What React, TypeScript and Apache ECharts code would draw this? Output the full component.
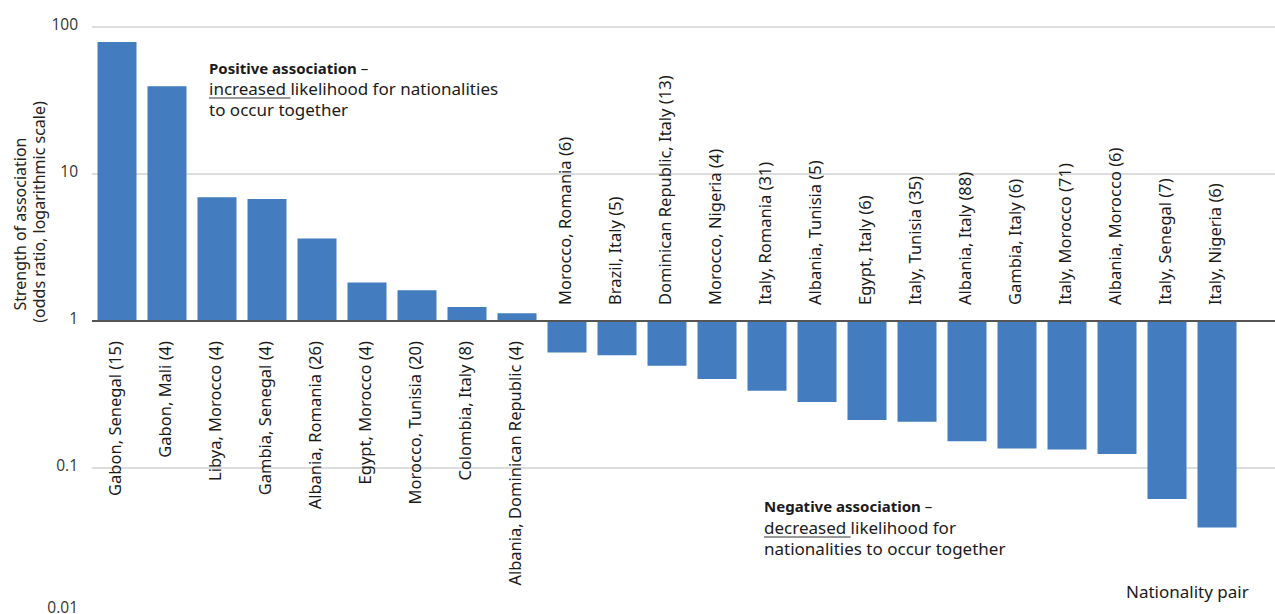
import React, { useEffect, useRef } from "react";
import * as echarts from "echarts";

const categories = [
  "Gabon, Senegal (15)",
  "Gabon, Mali (4)",
  "Libya, Morocco (4)",
  "Gambia, Senegal (4)",
  "Albania, Romania (26)",
  "Egypt, Morocco (4)",
  "Morocco, Tunisia (20)",
  "Colombia, Italy (8)",
  "Albania, Dominican Republic (4)",
  "Morocco, Romania (6)",
  "Brazil, Italy (5)",
  "Dominican Republic, Italy (13)",
  "Morocco, Nigeria (4)",
  "Italy, Romania (31)",
  "Albania, Tunisia (5)",
  "Egypt, Italy (6)",
  "Italy, Tunisia (35)",
  "Albania, Italy (88)",
  "Gambia, Italy (6)",
  "Italy, Morocco (71)",
  "Albania, Morocco (6)",
  "Italy, Senegal (7)",
  "Italy, Nigeria (6)",
];

const oddsRatios = [
  79, 39.5, 6.94, 6.76, 3.64, 1.83, 1.62, 1.245, 1.13,
  0.61, 0.584, 0.497, 0.403, 0.336, 0.281, 0.212, 0.206, 0.152, 0.1355, 0.1334, 0.1245,
  0.0615, 0.0393,
];

const yTickLabels = ["0.01", "0.1", "1", "10", "100"];
const yAxisTitle = ["Strength of association", "(odds ratio, logarithmic scale)"];
const positiveNote = ["Positive association", " –", "increased ", "likelihood for nationalities", "to occur together"];
const negativeNote = ["Negative association", " –", "decreased ", "likelihood for", "nationalities to occur together"];
const xAxisTitle = "Nationality pair";

const BAR_COLOR = "#437cbf";
const LABEL_FONT = "16.5px 'Noto Sans', sans-serif";
const NOTE_FONT = "17px 'Noto Sans', sans-serif";
const DASH_FONT = "15px 'Noto Sans', sans-serif";
const NOTE_BOLD = "bold 15px 'Noto Sans', sans-serif";
const TITLE_FONT = "16px 'Noto Sans', sans-serif";

function measure(text: string, font: string): number {
  const c = document.createElement("canvas").getContext("2d");
  if (!c) return text.length * 7;
  c.font = font;
  return c.measureText(text).width;
}

export default function App() {
  const ref = useRef<HTMLDivElement>(null);
  useEffect(() => {
    if (!ref.current) return;
    const chart = echarts.init(ref.current, undefined, { renderer: "svg" });
    const barData = oddsRatios.map((v, i) => [i, v]);

    const posX = 209;
    const negX = 764;
    const wPosBold = measure(positiveNote[0], NOTE_BOLD);
    const wPosUnder = measure(positiveNote[2], NOTE_FONT);
    const wNegBold = measure(negativeNote[0], NOTE_BOLD);
    const wNegUnder = measure(negativeNote[2], NOTE_FONT);

    const txt = (x: number, y: number, text: string, font: string) => ({
      type: "text",
      x,
      y,
      style: { text, font, fill: "#1a1a1a", verticalAlign: "middle" },
    });

    const tickStyle = { color: "#333", fontSize: 15.5, fontFamily: "'Open Sans', sans-serif" };

    chart.setOption({
      animation: false,
      grid: { left: 92, right: 0, top: 27, height: 588, outerBoundsMode: "none", containLabel: false },
      xAxis: {
        type: "value",
        min: -0.5,
        max: 23.16,
        show: false,
      },
      yAxis: {
        type: "log",
        logBase: 10,
        min: 0.01,
        max: 100,
        axisLine: { show: false },
        axisTick: { show: false },
        splitLine: { lineStyle: { color: "#d2d2d2", width: 1.5 } },
        axisLabel: {
          ...tickStyle,
          margin: 14,
          formatter: (v: number) => {
            const k = Math.round(Math.log10(v)) + 2;
            const t = yTickLabels[k] ?? "";
            return k === 0 ? `{low|${t}}` : `{n|${t}}`;
          },
          rich: {
            n: { ...tickStyle, padding: [0, 0, 6, 0] },
            low: { ...tickStyle, padding: [0, 0, 16, 0] },
          },
        },
      },
      series: [
        {
          type: "bar",
          data: barData,
          barWidth: 39,
          itemStyle: { color: BAR_COLOR },
          markLine: {
            silent: true,
            symbol: "none",
            label: { show: false },
            lineStyle: { color: "#555", width: 2, type: "solid" },
            data: [{ yAxis: 1 }],
          },
          z: 2,
        },
        {
          type: "custom",
          data: barData,
          z: 3,
          renderItem: (params: any, api: any) => {
            const i = api.value(0);
            const v = api.value(1);
            const pt = api.coord([i, 1]);
            const up = v >= 1;
            return {
              type: "text",
              x: pt[0] - 3,
              y: pt[1] + (up ? 20 : -16),
              rotation: Math.PI / 2,
              style: {
                text: categories[i],
                font: LABEL_FONT,
                fill: "#1a1a1a",
                align: up ? "right" : "left",
                verticalAlign: "middle",
              },
            };
          },
        },
      ],
      graphic: [
        {
          type: "text",
          x: 20,
          y: 224,
          rotation: Math.PI / 2,
          style: { text: yAxisTitle[0], font: TITLE_FONT, fill: "#222", align: "center", verticalAlign: "middle" },
        },
        {
          type: "text",
          x: 39,
          y: 212,
          rotation: Math.PI / 2,
          style: { text: yAxisTitle[1], font: TITLE_FONT, fill: "#222", align: "center", verticalAlign: "middle" },
        },
        txt(posX, 68, positiveNote[0], NOTE_BOLD),
        txt(posX + wPosBold, 68, positiveNote[1], DASH_FONT),
        txt(posX, 88, positiveNote[2], NOTE_FONT),
        txt(posX + wPosUnder, 88, positiveNote[3], NOTE_FONT),
        { type: "line", shape: { x1: posX, y1: 98, x2: posX + wPosUnder, y2: 98 }, style: { stroke: "#333", lineWidth: 1 } },
        txt(posX, 109, positiveNote[4], NOTE_FONT),

        txt(negX, 506, negativeNote[0], NOTE_BOLD),
        txt(negX + wNegBold, 506, negativeNote[1], DASH_FONT),
        txt(negX, 527, negativeNote[2], NOTE_FONT),
        txt(negX + wNegUnder, 527, negativeNote[3], NOTE_FONT),
        { type: "line", shape: { x1: negX, y1: 537, x2: negX + wNegUnder, y2: 537 }, style: { stroke: "#333", lineWidth: 1 } },
        txt(negX, 548, negativeNote[4], NOTE_FONT),

        txt(1126, 591, xAxisTitle, NOTE_FONT),
      ],
    });
    return () => chart.dispose();
  }, []);
  return (
    <div
      ref={ref}
      style={{ position: "fixed", left: 0, top: 0, width: 1275, height: 614, background: "#fff" }}
    />
  );
}
